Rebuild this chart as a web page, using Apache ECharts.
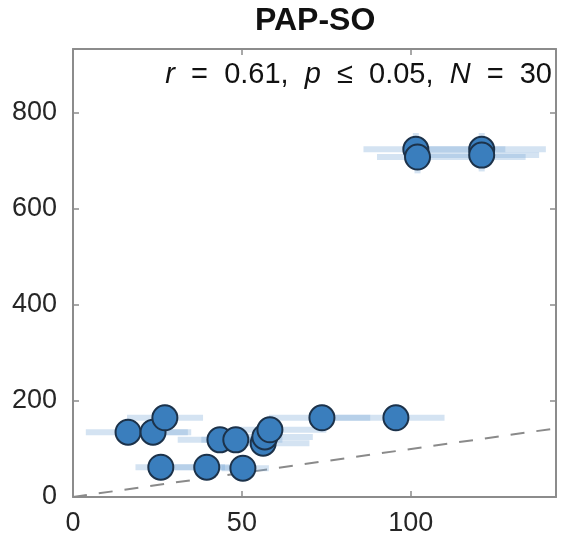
<!DOCTYPE html>
<html>
<head>
<meta charset="utf-8">
<script src="https://cdn.jsdelivr.net/npm/echarts@6/dist/echarts.min.js"></script>
<style>html,body{margin:0;padding:0;background:#fff;}#c{width:564px;height:548px;}</style>
</head>
<body>
<div id="c"></div>
<script>
// Data
var titleText = 'PAP-SO';
var xVals  = [16.3, 23.7, 27.2, 26.0, 39.6, 50.3, 43.5, 48.2, 56.3, 56.8, 58.3, 73.7, 95.6, 101.5, 102.0, 121.0, 121.0];
var yVals  = [135, 135, 165, 62, 62, 60, 119, 119, 112, 125, 140, 165, 165, 724, 708, 724, 712];
var xLow   = [3.8, 14, 16, 18.5, 30, 44, 31, 38, 46, 48, 47, 58, 77, 86, 90, 103, 100];
var xHigh  = [35, 34, 38.5, 45, 52, 58, 56, 62, 70, 71, 75, 88, 110, 128, 134, 140, 138];
var yErr   = [28, 28, 28, 26, 26, 26, 26, 26, 26, 26, 28, 28, 28, 34, 34, 34, 34];
var xTicks = [0, 50, 100];
var yTicks = [0, 200, 400, 600, 800];
var xMax = 143, yMax = 933;
var refLine = [0, 143];

var pts = xVals.map(function(x,i){return [x, yVals[i]];});
var errData = xVals.map(function(x,i){return [x, yVals[i], xLow[i], xHigh[i], yVals[i]-yErr[i], yVals[i]+yErr[i]];});

var chart = echarts.init(document.getElementById('c'));
var axisCol = '#8c8c8c';
var font = '"Liberation Sans", Arial, Helvetica, sans-serif';
chart.setOption({
  animation:false,
  grid:{left:73,right:8,top:49,bottom:51,show:false},
  xAxis:[{type:'value',min:0,max:xMax,interval:50,
    axisLine:{show:true,lineStyle:{color:axisCol,width:2}},
    axisTick:{show:true,inside:true,length:6,lineStyle:{color:axisCol,width:1.5}},
    axisLabel:{show:true,margin:13,color:'#262626',fontSize:27,fontFamily:font,
      formatter:function(v){return xTicks.indexOf(v)>=0?String(v):'';}},
    splitLine:{show:false}},
   {type:'value',position:'top',min:0,max:xMax,interval:50,
    axisLine:{show:true,onZero:false,lineStyle:{color:axisCol,width:2}},
    axisTick:{show:true,inside:true,length:6,lineStyle:{color:axisCol,width:1.5}},
    axisLabel:{show:false},splitLine:{show:false}}],
  yAxis:[{type:'value',min:0,max:yMax,interval:200,
    axisLine:{show:true,lineStyle:{color:axisCol,width:2}},
    axisTick:{show:true,inside:true,length:6,lineStyle:{color:axisCol,width:1.5}},
    axisLabel:{show:true,margin:16,color:'#262626',fontSize:27,fontFamily:font,
      formatter:function(v){return yTicks.indexOf(v)>=0?String(v):'';}},
    splitLine:{show:false}},
   {type:'value',position:'right',min:0,max:yMax,interval:200,
    axisLine:{show:true,onZero:false,lineStyle:{color:axisCol,width:2}},
    axisTick:{show:true,inside:true,length:6,lineStyle:{color:axisCol,width:1.5}},
    axisLabel:{show:false},splitLine:{show:false}}],
  graphic:[
    {type:'text',left:255,top:5,style:{text:titleText,fill:'#111',font:'bold 32px '+font}},
    {type:'text',right:12,top:60,style:{
      text:'{i|r}  =  0.61,  {i|p}  ≤  0.05,  {i|N}  =  30',
      fill:'#111',font:'29px '+font,
      rich:{i:{fontStyle:'italic',fontSize:29,fontFamily:font,fill:'#111'}}}}
  ],
  series:[
    {type:'line',data:[[refLine[0],refLine[0]],[refLine[1],refLine[1]]],symbol:'none',silent:true,
     lineStyle:{color:'#8a8a8a',width:2,type:[14,12]},z:1},
    {type:'custom',data:errData,z:2,silent:true,
     renderItem:function(params,api){
       var c = api.coord([api.value(0),api.value(1)]);
       var l = api.coord([api.value(2),api.value(1)]);
       var r = api.coord([api.value(3),api.value(1)]);
       var b = api.coord([api.value(0),api.value(4)]);
       var t = api.coord([api.value(0),api.value(5)]);
       var st = {stroke:'rgba(120,168,214,0.32)',lineWidth:6};
       return {type:'group',children:[
         {type:'line',shape:{x1:l[0],y1:c[1],x2:r[0],y2:c[1]},style:st},
         {type:'line',shape:{x1:c[0],y1:b[1],x2:c[0],y2:t[1]},style:st}
       ]};
     }},
    {type:'scatter',data:pts,symbol:'circle',symbolSize:25,z:3,
     itemStyle:{color:'#3a7ebd',borderColor:'#1c324a',borderWidth:2,opacity:1}}
  ]
});
</script>
</body>
</html>
